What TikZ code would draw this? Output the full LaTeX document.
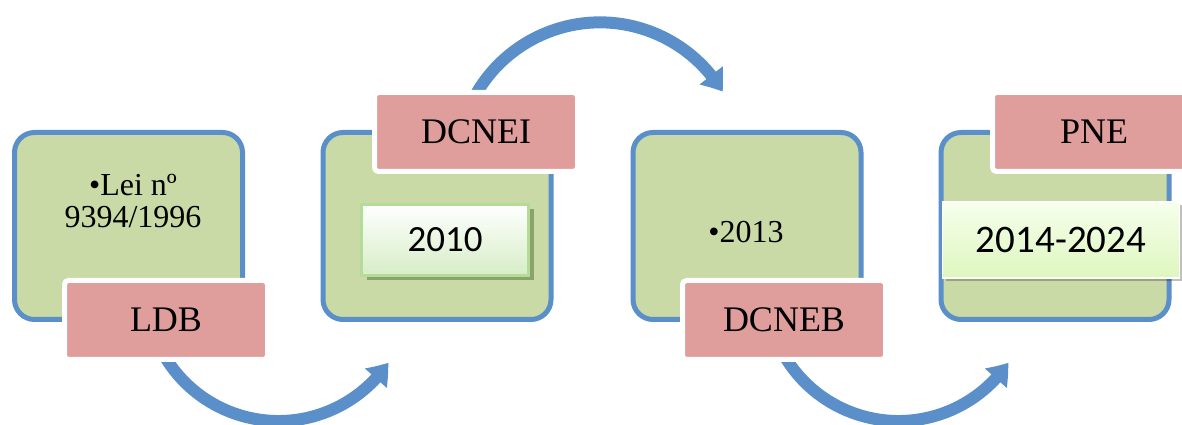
\documentclass[tikz,border=0pt]{standalone}
\usepackage{fontspec}
\setmainfont{Liberation Serif}
\newfontfamily\calfont{Carlito}
\usetikzlibrary{arrows.meta,bending,shadows}
\definecolor{bluearrow}{HTML}{5B8FC9}
\definecolor{boxgreen}{HTML}{C9DAA6}
\definecolor{pinkbox}{HTML}{DF9E9C}
\definecolor{ltgreen}{HTML}{B4DC98}
\definecolor{shadowgreen}{HTML}{8AA36A}
\definecolor{paleg}{HTML}{D6EDC6}
\definecolor{limeb}{HTML}{DEF6BE}
\definecolor{limet}{HTML}{F6FFEC}
\tikzset{
  greenbox/.style={draw=bluearrow, line width=5pt, fill=boxgreen, rounded corners=20pt,
    minimum width=228pt, minimum height=187pt, inner sep=0pt},
  labelbox/.style={draw=white, line width=5pt, fill=pinkbox, rounded corners=4pt,
    minimum width=203pt, minimum height=79pt, inner sep=0pt,
    font=\fontsize{36}{40}\selectfont},
  bodytext/.style={align=center, inner sep=0pt, font=\fontsize{32}{32}\selectfont},
  arr/.style={draw=bluearrow, line width=12pt, -{Triangle[length=20pt,width=28pt,bend]}},
  yearbox/.style={draw=ltgreen, line width=3pt, top color=white, bottom color=paleg,
    minimum width=167pt, minimum height=71pt, inner sep=0pt,
    font=\calfont\fontsize{37}{40}\selectfont,
    drop shadow={shadow xshift=5pt, shadow yshift=-5pt, fill=shadowgreen, opacity=1}},
  periodbox/.style={draw=white, line width=1.5pt, top color=limet, bottom color=limeb,
    minimum width=237pt, minimum height=76pt, inner sep=0pt,
    font=\calfont\fontsize{39}{40}\selectfont,
    drop shadow={shadow xshift=3pt, shadow yshift=-3pt, fill=black, opacity=0.25}}
}
\begin{document}
\begin{tikzpicture}[x=1pt,y=1pt]
\useasboundingbox (0,0) rectangle (1182,425);
\clip (0,0) rectangle (1182,425);
% arrows (drawn first, partly hidden below the label boxes)
\coordinate (a1s) at ({278.5+132.4*cos(205)},{136.4+132.4*sin(205)});
\coordinate (a2s) at ({600+143*cos(160)},{259.6+143*sin(160)});
\coordinate (a3s) at ({898.5+132.4*cos(205)},{136.4+132.4*sin(205)});
\draw[arr] (a1s) arc[start angle=205, end angle=326, radius=132.4];
\draw[arr] (a2s) arc[start angle=160, end angle=31, radius=143];
\draw[arr] (a3s) arc[start angle=205, end angle=326, radius=132.4];
% green boxes
\node[greenbox] (g1) at (128.5,199) {};
\node[greenbox] (g2) at (437,199) {};
\node[greenbox] (g3) at (747,199) {};
\node[greenbox] (g4) at (1055,199) {};
% texts in green boxes
\node[bodytext] (t1) at (133,224) {•Lei nº\\9394/1996};
\node[bodytext] (t3) at (746,193) {•2013};
% year boxes
\node[yearbox] (y2) at (445,185) {2010};
\node[periodbox] (y4) at (1061,185) {2014-2024};
% label boxes
\node[labelbox] (l1) at (166,105) {LDB};
\node[labelbox] (l2) at (476,293) {DCNEI};
\node[labelbox] (l3) at (784,105) {DCNEB};
\node[labelbox] (l4) at (1094,293) {PNE};
\end{tikzpicture}
\end{document}
